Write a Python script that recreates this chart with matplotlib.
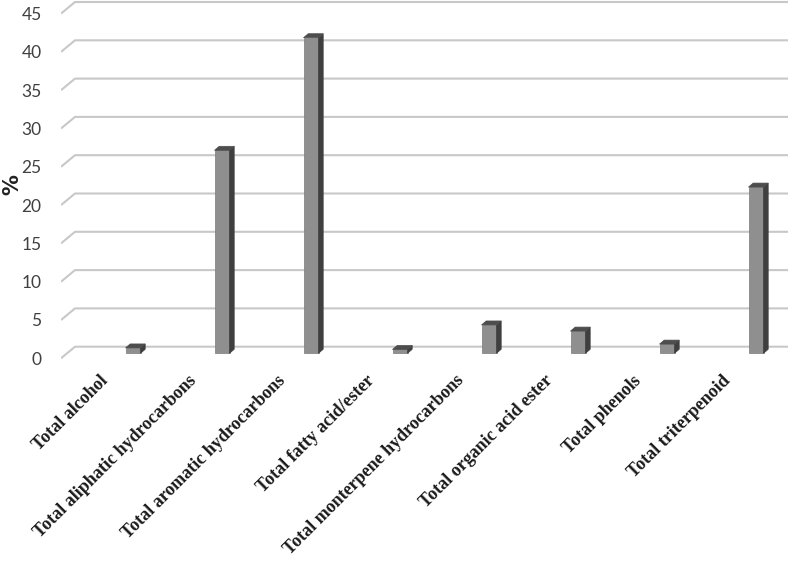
import matplotlib.pyplot as plt
from matplotlib.patches import Polygon
import matplotlib.transforms as mtransforms
import numpy as np

categories = ['Total alcohol', 'Total aliphatic hydrocarbons', 'Total aromatic hydrocarbons',
              'Total fatty acid/ester', 'Total monterpene hydrocarbons', 'Total organic acid ester',
              'Total phenols', 'Total triterpenoid']
values = [0.7, 26.5, 41.2, 0.5, 3.7, 2.9, 1.2, 21.7]
yticks = [0, 5, 10, 15, 20, 25, 30, 35, 40, 45]

# pixel scale of the picture (1 category = 89 px, 1 % = 7.66 px)
px_x = 1 / 89.0
px_y = 1 / 7.66

fig = plt.figure(figsize=(7.88, 5.67), dpi=100)
# axes from x=61 px to 788 px, y=0 px to 362 px
ax = fig.add_axes([61 / 788, (567 - 362) / 567, (788 - 61) / 788, 362 / 567])
x_left = (61 - 133) * px_x
x_right = (788 - 133) * px_x
ax.set_xlim(x_left, x_right)
ax.set_ylim((358.3 - 362) * px_y, 358.3 * px_y)

# 3d wall: back gridlines + slanted edge on the left
wall_dx = 14 * px_x
wall_dy = 11.6 * px_y
grid_col = '#c8c8c8'
for v in yticks:
    ax.plot([x_left, x_left + wall_dx, x_right], [v, v + wall_dy, v + wall_dy],
            color=grid_col, lw=1.5, zorder=1, solid_capstyle='butt')

# bars with a fake depth (side + top faces)
x = np.arange(len(categories))
w = 15 * px_x
base = 5 * px_y
ddx = 4.7 * px_x
ddy = 4.0 * px_y
ax.bar(x, values, width=w, bottom=base, color='#8f8f8f', edgecolor='#7a7a7a', lw=0.5, zorder=3)
for xi, v in zip(x, values):
    r = xi + w / 2
    l = xi - w / 2
    top = base + v
    side = Polygon([(r, base), (r + ddx, base + ddy), (r + ddx, top + ddy), (r, top)],
                   closed=True, facecolor='#3f3f3f', edgecolor='#3f3f3f', lw=0.5, zorder=3)
    cap = Polygon([(l, top), (r, top), (r + ddx, top + ddy), (l + ddx, top + ddy)],
                  closed=True, facecolor='#4d4d4d', edgecolor='#4d4d4d', lw=0.5, zorder=3)
    ax.add_patch(side)
    ax.add_patch(cap)

for s in ax.spines.values():
    s.set_visible(False)

ax.set_yticks(yticks)
ax.set_yticklabels([str(t) for t in yticks], fontsize=12.5, color='#404040', family='Lato')
ax.tick_params(axis='y', length=0, pad=14)

ax.set_xticks(x)
ax.set_xticklabels(categories, rotation=45, ha='right', va='center', rotation_mode='anchor',
                   fontsize=13, fontweight='bold', family='Liberation Serif', color='#1a1a1a')
ax.tick_params(axis='x', length=0, pad=8)
offset = mtransforms.ScaledTranslation(-28 / 100, -5 / 100, fig.dpi_scale_trans)
for lab in ax.get_xticklabels():
    lab.set_transform(lab.get_transform() + offset)

fig.text(12 / 788, 1 - 185 / 567, '%', rotation=90, fontsize=15, fontweight='bold',
         ha='center', va='center', color='#222222')

plt.savefig('out.png', dpi=100)
